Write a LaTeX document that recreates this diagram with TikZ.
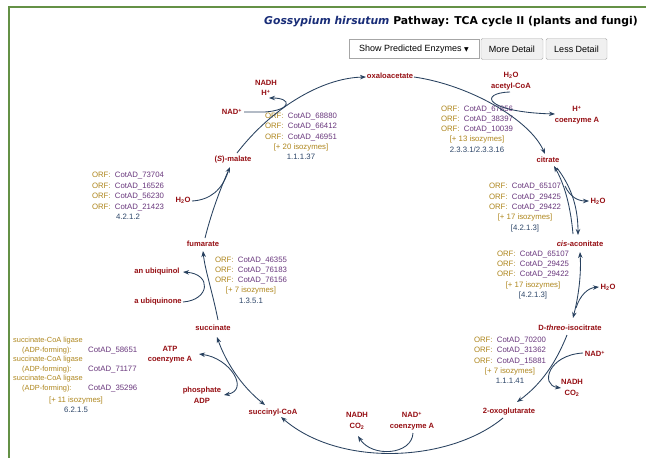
\documentclass[tikz,border=0pt]{standalone}
\usepackage{fontspec}
\setmainfont{Liberation Sans}
\newfontfamily\titlefont{DejaVu Sans}
\newfontfamily\symfont{DejaVu Sans}
\usetikzlibrary{arrows.meta}
\definecolor{metred}{RGB}{150,15,20}
\definecolor{orfgold}{RGB}{175,135,30}
\definecolor{cotpurple}{RGB}{105,55,125}
\definecolor{ecblue}{RGB}{45,70,105}
\definecolor{arrowblue}{RGB}{40,65,95}
\definecolor{titleblue}{RGB}{25,45,120}
\definecolor{framegreen}{RGB}{100,145,70}
\newcommand{\orfline}[1]{{\color{orfgold}ORF:}\ \ {\color{cotpurple}CotAD\_#1}}
\newcommand{\isoline}[1]{{\color{orfgold}[+ #1 isozymes]}}
\newcommand{\ecline}[1]{{\color{ecblue}#1}}
\tikzset{
  met/.style={font=\bfseries\fontsize{7.6}{10.5}\selectfont, text=metred, inner sep=0pt, align=center},
  enz/.style={font=\fontsize{7.8}{10.3}\selectfont, inner sep=0pt, align=center},
  lig/.style={font=\fontsize{7.4}{9}\selectfont, inner sep=0pt, anchor=west},
  conn/.style={draw=arrowblue, line width=0.85pt},
  btn/.style={draw=gray!65, fill=gray!12, rounded corners=1.5pt, inner sep=0pt, font=\fontsize{9}{10}\selectfont},
  >={Stealth[length=6pt,width=4.5pt]}
}
\begin{document}
\begin{tikzpicture}[x=1pt,y=-1pt]
\useasboundingbox (0,0) rectangle (646,458);
\fill[white] (0,0) rectangle (646,458);
\draw[framegreen, line width=2.2pt] (9,458) -- (9,7) -- (646,7);

% title and controls
\node[font=\titlefont\bfseries\fontsize{10.8}{12}\selectfont, inner sep=0pt] (title) at (451,22)
  {{\color{titleblue}\itshape Gossypium hirsutum} Pathway: TCA cycle II (plants and fungi)};
\node[draw=gray!70, fill=white, minimum width=130, minimum height=19, inner sep=0pt, font=\fontsize{9}{10}\selectfont] (dd) at (414,49) {Show Predicted Enzymes {\symfont\fontsize{6}{6}\selectfont▼}};
\node[btn, minimum width=62, minimum height=21] (more) at (512,49) {More Detail};
\node[btn, minimum width=61, minimum height=21] (less) at (576.5,49) {Less Detail};

% metabolites
\node[met] (oaa) at (390,76) {oxaloacetate};
\node[met] (cit) at (548,160) {citrate};
\node[met] (cisa) at (580,244) {\textit{cis}-aconitate};
\node[met] (icit) at (570,328) {D-\textit{threo}-isocitrate};
\node[met] (ogl) at (509,412) {2-oxoglutarate};
\node[met] (scoa) at (273,413) {succinyl-CoA};
\node[met] (succ) at (213,328) {succinate};
\node[met] (fum) at (203,244) {fumarate};
\node[met] (mal) at (233,160) {(\textit{S})-malate};

% side metabolites
\node[met] (nadm) at (232,112) {NAD\textsuperscript{+}};
\node[met] (nadhm) at (266,88) {NADH\\H\textsuperscript{+}};
\node[met] (waca) at (511,81) {H\textsubscript{2}O\\acetyl-CoA};
\node[met] (hcoa) at (577,115) {H\textsuperscript{+}\\coenzyme A};
\node[met] (w1) at (598,201) {H\textsubscript{2}O};
\node[met] (w2) at (608,287) {H\textsubscript{2}O};
\node[met] (nadi) at (595,354) {NAD\textsuperscript{+}};
\node[met] (nadhi) at (572,388) {NADH\\CO\textsubscript{2}};
\node[met] (nadho) at (357,421) {NADH\\CO\textsubscript{2}};
\node[met] (nado) at (412,421) {NAD\textsuperscript{+}\\coenzyme A};
\node[met] (atp) at (170,354.5) {ATP\\coenzyme A};
\node[met] (pad) at (202,395) {phosphate\\ADP};
\node[met] (uqol) at (157,272) {an ubiquinol};
\node[met] (uqon) at (158,302) {a ubiquinone};
\node[met] (wf) at (183,200) {H\textsubscript{2}O};

% enzyme blocks
\node[enz] (mdh) at (301,136.5) {\orfline{68880}\\\orfline{66412}\\\orfline{46951}\\\isoline{20}\\\ecline{1.1.1.37}};
\node[enz] (cs) at (477,129) {\orfline{67856}\\\orfline{38397}\\\orfline{10039}\\\isoline{13}\\\ecline{2.3.3.1/2.3.3.16}};
\node[enz] (aco1) at (525,207.5) {\orfline{65107}\\\orfline{29425}\\\orfline{29422}\\\isoline{17}\\\ecline{[4.2.1.3]}};
\node[enz] (aco2) at (533,275) {\orfline{65107}\\\orfline{29425}\\\orfline{29422}\\\isoline{17}\\\ecline{[4.2.1.3]}};
\node[enz] (idh) at (510,360.5) {\orfline{70200}\\\orfline{31362}\\\orfline{15881}\\\isoline{7}\\\ecline{1.1.1.41}};
\node[enz] (sdh) at (251,280) {\orfline{46355}\\\orfline{76183}\\\orfline{76156}\\\isoline{7}\\\ecline{1.3.5.1}};
\node[enz, font=\fontsize{7.8}{10.5}\selectfont] (fumase) at (128,196) {\orfline{73704}\\\orfline{16526}\\\orfline{56230}\\\orfline{21423}\\\ecline{4.2.1.2}};

% succinate-CoA ligase block
\node[lig, text=orfgold] (l1) at (13,341) {succinate-CoA ligase};
\node[lig, text=orfgold] (l2) at (22,350.5) {(ADP-forming):};
\node[lig, text=cotpurple, font=\fontsize{7.8}{9}\selectfont] (l2b) at (88,350.5) {CotAD\_58651};
\node[lig, text=orfgold] (l3) at (13,360) {succinate-CoA ligase};
\node[lig, text=orfgold] (l4) at (22,369.5) {(ADP-forming):};
\node[lig, text=cotpurple, font=\fontsize{7.8}{9}\selectfont] (l4b) at (88,369.5) {CotAD\_71177};
\node[lig, text=orfgold] (l5) at (13,379) {succinate-CoA ligase};
\node[lig, text=orfgold] (l6) at (22,388.5) {(ADP-forming):};
\node[lig, text=cotpurple, font=\fontsize{7.8}{9}\selectfont] (l6b) at (88,388.5) {CotAD\_35296};
\node[enz] (l7) at (76,400) {\isoline{11}};
\node[enz] (l8) at (76,410) {\ecline{6.2.1.5}};

% connector end points
\coordinate (a1s) at (237,153); \coordinate (a1e) at (366,77);
\coordinate (a2s) at (414,77); \coordinate (a2e) at (545,154);
\coordinate (a3s) at (510,92); \coordinate (a3e) at (555,114);
\coordinate (a4s) at (573,234); \coordinate (a4e) at (554,166);
\coordinate (a5s) at (557,168); \coordinate (a5e) at (578,235);
\coordinate (a6s) at (565,186); \coordinate (a6e) at (589,201);
\coordinate (a7s) at (580,252); \coordinate (a7e) at (573,318);
\coordinate (a8s) at (576,308); \coordinate (a8e) at (599,287);
\coordinate (a9s) at (567,335); \coordinate (a9e) at (517,402);
\coordinate (a10s) at (583,353); \coordinate (a10e) at (561,388);
\coordinate (a11s) at (503,418); \coordinate (a11e) at (281,417);
\coordinate (a12s) at (413,433); \coordinate (a12e) at (358,436);
\coordinate (a13s) at (217,337); \coordinate (a13e) at (265,405);
\coordinate (a14s) at (199,354); \coordinate (a14e) at (224,395);
\coordinate (a15s) at (218,320); \coordinate (a15e) at (203,251);
\coordinate (a16s) at (183,302); \coordinate (a16e) at (183,272);
\coordinate (a17s) at (205,238); \coordinate (a17e) at (230,167);
\coordinate (a18s) at (192,201); \coordinate (a18e) at (228,172);
\coordinate (a19s) at (244,112); \coordinate (a19m) at (265,112); \coordinate (a19e) at (269,98);

% connectors
\draw[conn,->] (a1s) .. controls (270,110) and (320,78) .. (a1e);
\draw[conn,->] (a2s) .. controls (470,85) and (530,120) .. (a2e);
\draw[conn,->] (a3s) .. controls (478,93) and (485,112) .. (a3e);
\draw[conn,->] (a4s) .. controls (570,200) and (562,180) .. (a4e);
\draw[conn,->] (a5s) .. controls (570,185) and (578,205) .. (a5e);
\draw[conn,->] (a6s) .. controls (570,197) and (578,201) .. (a6e);
\draw[conn,<->] (a7s) .. controls (581,270) and (580,290) .. (a7e);
\draw[conn,->] (a8s) .. controls (580,295) and (588,288) .. (a8e);
\draw[conn,->] (a9s) .. controls (555,365) and (540,385) .. (a9e);
\draw[conn,->] (a10s) .. controls (548,355) and (540,385) .. (a10e);
\draw[conn,->] (a11s) .. controls (450,462) and (340,468) .. (a11e);
\draw[conn,->] (a12s) .. controls (412,455) and (372,458) .. (a12e);
\draw[conn,<->] (a13s) .. controls (225,360) and (240,385) .. (a13e);
\draw[conn,<->] (a14s) .. controls (230,358) and (250,390) .. (a14e);
\draw[conn,->] (a15s) .. controls (212,290) and (205,270) .. (a15e);
\draw[conn,->] (a16s) .. controls (210,300) and (212,274) .. (a16e);
\draw[conn,->] (a17s) .. controls (212,210) and (222,185) .. (a17e);
\draw[conn] (a18s) .. controls (210,200) and (222,190) .. (a18e);
\draw[conn,->] (a19s) -- (a19m) .. controls (292,110) and (292,98) .. (a19e);
\end{tikzpicture}
\end{document}
